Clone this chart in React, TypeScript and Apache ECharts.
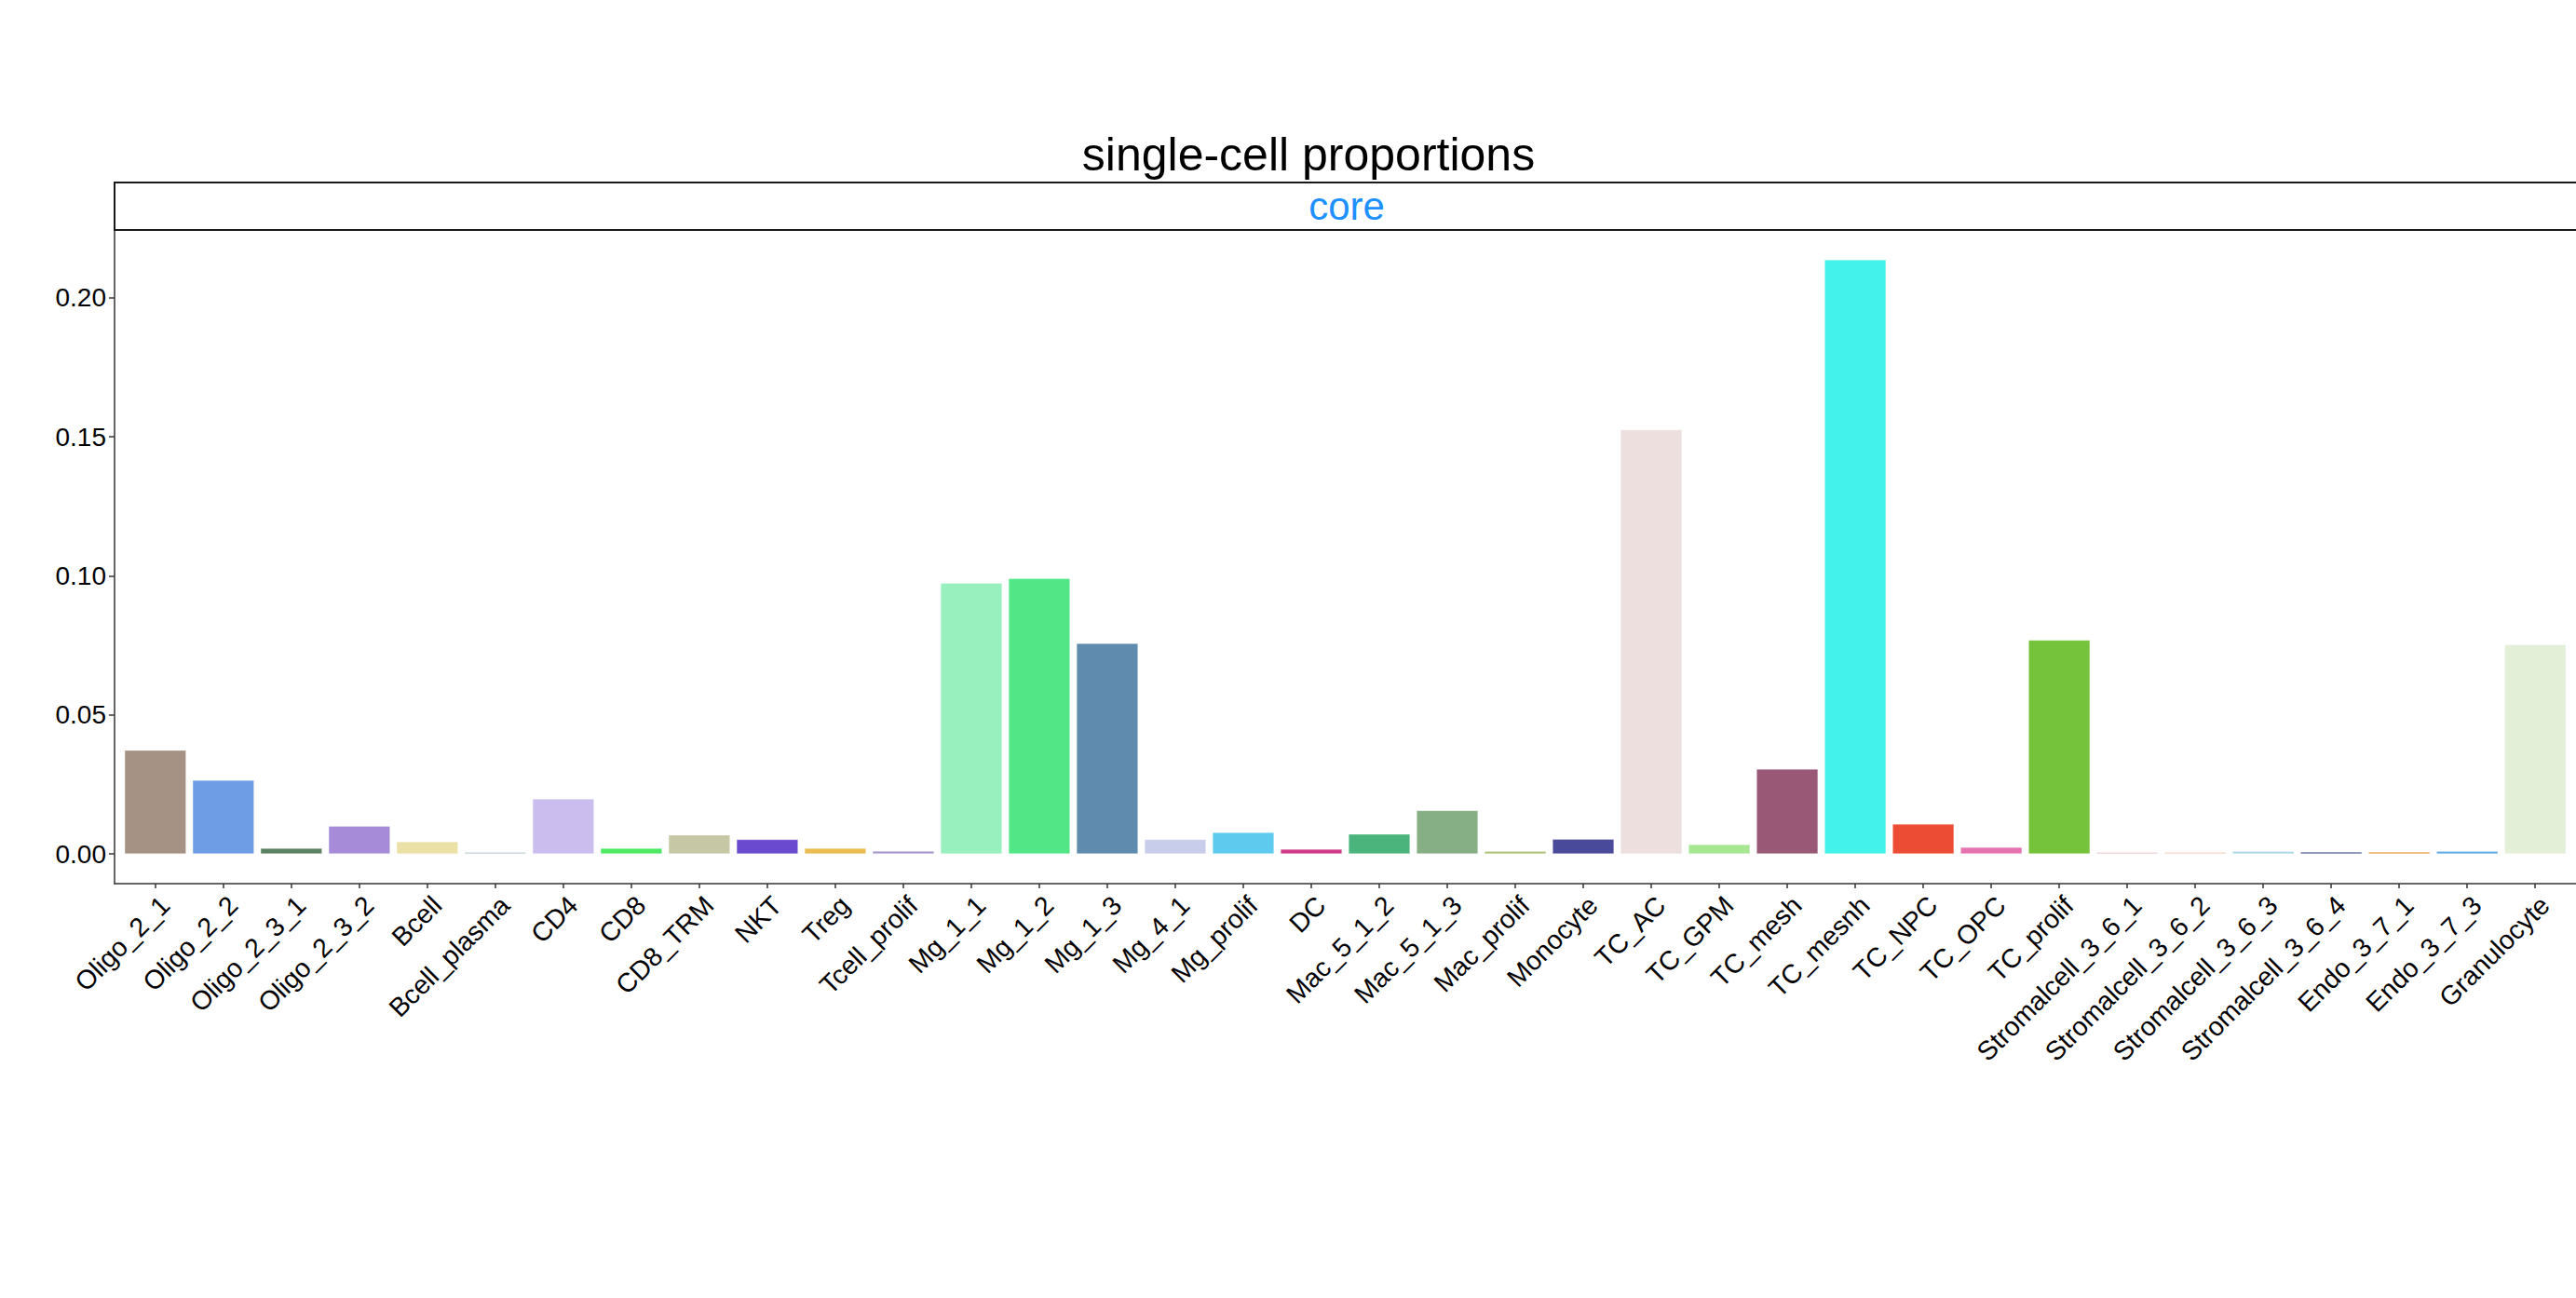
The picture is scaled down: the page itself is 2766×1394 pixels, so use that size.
import React, { useEffect, useRef } from "react";
import * as echarts from "echarts";

const categories = [
  "Oligo_2_1", "Oligo_2_2", "Oligo_2_3_1", "Oligo_2_3_2", "Bcell", "Bcell_plasma",
  "CD4", "CD8", "CD8_TRM", "NKT", "Treg", "Tcell_prolif",
  "Mg_1_1", "Mg_1_2", "Mg_1_3", "Mg_4_1", "Mg_prolif", "DC",
  "Mac_5_1_2", "Mac_5_1_3", "Mac_prolif", "Monocyte", "TC_AC", "TC_GPM",
  "TC_mesh", "TC_mesnh", "TC_NPC", "TC_OPC", "TC_prolif", "Stromalcell_3_6_1",
  "Stromalcell_3_6_2", "Stromalcell_3_6_3", "Stromalcell_3_6_4", "Endo_3_7_1", "Endo_3_7_3", "Granulocyte",
];

const proportions = [
  0.0373, 0.0265, 0.0020, 0.0100, 0.0044, 0.0006,
  0.0198, 0.0020, 0.0068, 0.0052, 0.0020, 0.0010,
  0.0974, 0.0991, 0.0757, 0.0052, 0.0077, 0.0017,
  0.0071, 0.0156, 0.0009, 0.0053, 0.1526, 0.0034,
  0.0305, 0.2137, 0.0107, 0.0024, 0.0769, 0.0006,
  0.0006, 0.0009, 0.0007, 0.0007, 0.0009, 0.0753,
];

const barColors = [
  "#A69285", "#6F9DE5", "#5A8262", "#A68BD8", "#EBE0A6", "#B0C4C8",
  "#CBBEEF", "#4EE862", "#C6C7A5", "#6A4ACF", "#EBBD50", "#A597CC",
  "#98F0BE", "#52E686", "#5E8BAE", "#C8CDEB", "#5DCAEE", "#D13A86",
  "#4BB47C", "#86AF86", "#AABF6E", "#4A4A9A", "#EDDFDD", "#A6E892",
  "#985876", "#43F2EA", "#EB4C33", "#E673B0", "#75C33A", "#EBC1C6",
  "#F2C8B0", "#A6D8E6", "#4B5A92", "#E8963C", "#5AA6E6", "#E4EFD8",
];

const yTicks = [0, 0.05, 0.1, 0.15, 0.2];
const titleText = "single-cell proportions";
const stripText = "core";

const FONT = "'Liberation Sans', Arial, Helvetica, sans-serif";

export default function App() {
  const ref = useRef<HTMLDivElement>(null);

  useEffect(() => {
    document.body.style.margin = "0";
    if (!ref.current) return;
    const chart = echarts.init(ref.current, null, { renderer: "svg" });
    const xIdx = categories.map((_, i) => i);
    chart.setOption({
      animation: false,
      backgroundColor: "#ffffff",
      textStyle: { fontFamily: FONT },
      grid: { left: 123, top: 247, width: 2646, height: 702, containLabel: false },
      xAxis: {
        type: "value",
        min: -0.6,
        max: 35.6,
        position: "bottom",
        splitLine: { show: false },
        axisLine: { show: true, onZero: false, lineStyle: { color: "#333333", width: 1.5 } },
        axisTick: { show: true, length: 5, customValues: xIdx, lineStyle: { color: "#333333", width: 1.5 } },
        axisLabel: {
          show: true,
          customValues: xIdx,
          rotate: 45,
          margin: 8,
          align: "right",
          verticalAlign: "top",
          fontSize: 28.5,
          color: "#000000",
          fontFamily: FONT,
          formatter: (v: number) => categories[Math.round(v)] ?? "",
        },
      },
      yAxis: {
        type: "value",
        min: -0.0107,
        max: 0.2244,
        splitLine: { show: false },
        axisLine: { show: true, onZero: false, lineStyle: { color: "#333333", width: 1.5 } },
        axisTick: { show: true, length: 6, customValues: yTicks, lineStyle: { color: "#333333", width: 1.5 } },
        axisLabel: {
          show: true,
          customValues: yTicks,
          margin: 9,
          fontSize: 28,
          color: "#000000",
          fontFamily: FONT,
          formatter: (v: number) => v.toFixed(2),
        },
      },
      series: [
        {
          type: "bar",
          barWidth: 66,
          data: categories.map((_, i) => ({
            value: [i, proportions[i]],
            itemStyle: { color: barColors[i], borderColor: "rgba(255,255,255,0.6)", borderWidth: 0.5 },
          })),
        },
      ],
      graphic: [
        {
          type: "rect",
          shape: { x: 123, y: 196, width: 2660, height: 51 },
          style: { fill: "#ffffff", stroke: "#1a1a1a", lineWidth: 2 },
          z: 10,
        },
        {
          type: "text",
          x: 1446,
          y: 221.5,
          z: 11,
          style: {
            text: stripText,
            fill: "#1E90FF",
            font: `42px ${FONT}`,
            textAlign: "center",
            textVerticalAlign: "middle",
          },
        },
        {
          type: "text",
          x: 1405,
          y: 166,
          z: 11,
          style: {
            text: titleText,
            fill: "#000000",
            font: `50px ${FONT}`,
            textAlign: "center",
            textVerticalAlign: "middle",
          },
        },
      ],
    });
    return () => chart.dispose();
  }, []);

  return <div ref={ref} style={{ width: 2766, height: 1394 }} />;
}
